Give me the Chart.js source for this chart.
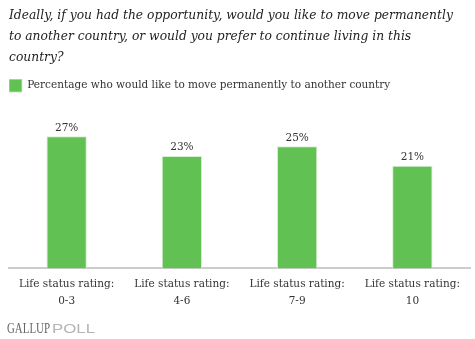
<!DOCTYPE html>
<html>
<head>
<meta charset="utf-8">
<script src="https://cdn.jsdelivr.net/npm/chart.js@4"></script>
<style>
  body { margin: 0; background: #fff; }
  #wrap { width: 475px; height: 339px; }
</style>
</head>
<body>
<div id="wrap"><canvas id="myChart" width="475" height="339"></canvas></div>
<script>
const categories = [
    ['Life status rating:', '0-3'],
    ['Life status rating:', '4-6'],
    ['Life status rating:', '7-9'],
    ['Life status rating:', '10']
];
const moveAbroad = [27, 23, 25, 21];
const seriesName = 'Percentage who would like to move permanently to another country';
const question = [
    'Ideally, if you had the opportunity, would you like to move permanently',
    'to another country, or would you prefer to continue living in this',
    'country?'
];

const serif = 'Georgia, "DejaVu Serif", serif';

// percent labels over each bar
const valueLabels = {
    id: 'valueLabels',
    afterDatasetsDraw(chart) {
        const ctx = chart.ctx;
        const meta = chart.getDatasetMeta(0);
        ctx.save();
        ctx.font = '10.5px ' + serif;
        ctx.fillStyle = '#333';
        ctx.textAlign = 'center';
        ctx.textBaseline = 'bottom';
        meta.data.forEach((bar, i) => {
            ctx.fillText(moveAbroad[i] + '%', bar.x, bar.y - 3);
        });
        ctx.restore();
    }
};

// squeeze a word into a fixed width
function fitText(ctx, text, x, y, width) {
    const w = ctx.measureText(text).width;
    ctx.save();
    ctx.translate(x, y);
    ctx.scale(width / w, 1);
    ctx.fillText(text, 0, 0);
    ctx.restore();
}

// source line at the bottom
const footer = {
    id: 'footer',
    afterDraw(chart) {
        const ctx = chart.ctx;
        ctx.save();
        ctx.textBaseline = 'alphabetic';
        ctx.font = '15px "Liberation Serif", "Times New Roman", serif';
        ctx.fillStyle = '#666666';
        fitText(ctx, 'GALLUP', 7, 333, 43);
        ctx.font = '13.5px "Liberation Sans", Arial, sans-serif';
        ctx.fillStyle = '#b4b4b4';
        fitText(ctx, 'POLL', 52, 333, 43);
        ctx.restore();
    }
};

new Chart(document.getElementById('myChart'), {
    type: 'bar',
    data: {
        labels: categories,
        datasets: [{
            label: seriesName,
            data: moveAbroad,
            backgroundColor: '#62c153',
            borderColor: '#d6eed2',
            borderWidth: {top: 1, left: 1, right: 1, bottom: 0},
            barPercentage: 0.35,
            categoryPercentage: 1
        }]
    },
    options: {
        responsive: false,
        animation: false,
        layout: {
            padding: {left: 9, right: 5, top: 5, bottom: 22}
        },
        scales: {
            x: {
                grid: {display: false, drawTicks: false},
                border: {color: '#cccccc', width: 2},
                ticks: {
                    color: '#333',
                    font: {family: serif, size: 10.5, lineHeight: 1.55},
                    padding: 8
                }
            },
            y: {
                display: false,
                min: 0,
                max: 34
            }
        },
        plugins: {
            title: {
                display: true,
                text: question,
                align: 'start',
                color: '#222',
                font: {family: serif, size: 12.3, style: 'italic', weight: 'normal', lineHeight: 1.71},
                padding: {top: 0, bottom: 11}
            },
            legend: {
                display: true,
                align: 'start',
                labels: {
                    color: '#333',
                    font: {family: serif, size: 10.5},
                    boxWidth: 13,
                    boxHeight: 13,
                    padding: 0
                }
            },
            tooltip: {enabled: false}
        }
    },
    plugins: [valueLabels, footer]
});
</script>
</body>
</html>
